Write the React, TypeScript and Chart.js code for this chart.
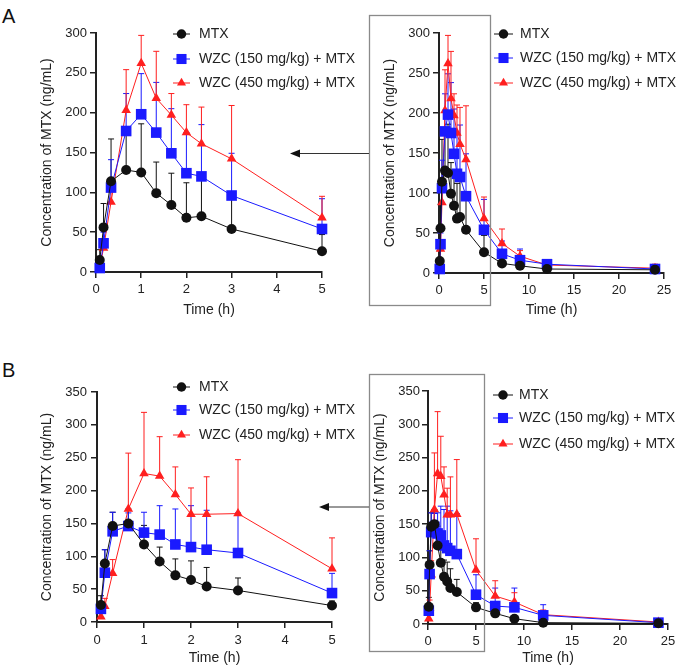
import React, { useEffect, useRef } from 'react';
import { Chart, registerables } from 'chart.js';

Chart.register(...registerables);

const FONT = '"Liberation Sans", Arial, Helvetica, sans-serif';
Chart.defaults.font.family = FONT;

// ---- data ----
const times = [0.083, 0.167, 0.333, 0.667, 1, 1.333, 1.667, 2, 2.333, 3, 5, 7, 9, 12, 24];
const seriesNames = ['MTX', 'WZC (150 mg/kg) + MTX', 'WZC (450 mg/kg) + MTX'];

const xTicksEarly = [0, 1, 2, 3, 4, 5];
const xTicksFull = [0, 5, 10, 15, 20, 25];
const yTicksA = [0, 50, 100, 150, 200, 250, 300];
const yTicksB = [0, 50, 100, 150, 200, 250, 300, 350];

// Panel A (mean and SD, ng/mL)
const mtxA = [15, 56, 114, 128, 125, 99, 84, 68, 70, 54, 26, 12, 9, 5, 4];
const mtxASd = [13, 30, 53, 44, 61, 39, 40, 44, 48, 38, 21, 4, 3, 1, 1];
const wzc150A = [5, 36, 106, 177, 198, 175, 149, 124, 120, 96, 54, 24, 16, 11, 5];
const wzc150ASd = [3, 14, 35, 47, 51, 63, 56, 51, 65, 53, 38, 16, 14, 3, 2];
const wzc450A = [6, 30, 88, 203, 262, 218, 197, 175, 161, 142, 68, 37, 21, 10, 6];
const wzc450ASd = [4, 10, 27, 51, 35, 59, 27, 35, 46, 67, 27, 18, 7, 2, 5];

// Panel B
const mtxB = [26, 89, 146, 150, 118, 92, 71, 64, 54, 48, 25, 16, 8, 2, 1];
const mtxBSd = [14, 21, 21, 22, 29, 22, 25, 29, 29, 19, 7, 4, 2, 1, 1];
const wzc150B = [20, 75, 138, 146, 136, 133, 118, 114, 110, 105, 44, 27, 25, 13, 2];
const wzc150BSd = [8, 35, 29, 20, 31, 44, 54, 63, 60, 61, 30, 27, 29, 16, 3];
const wzc450B = [8, 24, 74, 172, 226, 222, 194, 164, 164, 165, 81, 42, 33, 14, 3];
const wzc450BSd = [7, 12, 21, 85, 93, 60, 42, 40, 57, 82, 47, 23, 14, 7, 2];

// ---- styles ----
const colors = ['#111111', '#1a1aff', '#ff1f1f'];
const markers = ['circle', 'rect', 'triangle'];
const radii = [5, 7.5, 5.5];
const TEXT = '#222222';

const errorBarPlugin = {
  id: 'errorBars',
  beforeDatasetsDraw(chart: any) {
    const ctx = chart.ctx;
    const ys = chart.scales.y;
    chart.data.datasets.forEach((ds: any, i: number) => {
      const meta = chart.getDatasetMeta(i);
      ctx.save();
      ctx.strokeStyle = ds.borderColor;
      ctx.lineWidth = 1;
      meta.data.forEach((pt: any, j: number) => {
        const top = ys.getPixelForValue(ds.data[j].y + ds.sd[j]);
        ctx.beginPath();
        ctx.moveTo(pt.x, pt.y);
        ctx.lineTo(pt.x, top);
        ctx.moveTo(pt.x - 3, top);
        ctx.lineTo(pt.x + 3, top);
        ctx.stroke();
      });
      ctx.restore();
    });
  },
};

function drawMarker(ctx: any, style: string, x: number, y: number, r: number) {
  ctx.beginPath();
  if (style === 'circle') {
    ctx.arc(x, y, r, 0, Math.PI * 2);
  } else if (style === 'rect') {
    const s = Math.SQRT1_2 * r;
    ctx.rect(x - s, y - s, 2 * s, 2 * s);
  } else {
    const h = r * 1.5;
    const w = r * Math.sqrt(3) / 2;
    ctx.moveTo(x, y - r);
    ctx.lineTo(x + w, y - r + h);
    ctx.lineTo(x - w, y - r + h);
    ctx.closePath();
  }
  ctx.fill();
}

const legendPlugin = {
  id: 'pkLegend',
  afterDraw(chart: any, _args: any, opts: any) {
    if (!opts || !opts.ys) return;
    const ctx = chart.ctx;
    ctx.save();
    chart.data.datasets.forEach((ds: any, i: number) => {
      const y = opts.ys[i];
      ctx.strokeStyle = ds.borderColor;
      ctx.fillStyle = ds.borderColor;
      ctx.lineWidth = 1;
      ctx.beginPath();
      ctx.moveTo(opts.lineX, y);
      ctx.lineTo(opts.lineX + opts.lineLen, y);
      ctx.stroke();
      drawMarker(ctx, markers[i], opts.lineX + opts.lineLen / 2, y, radii[i] * 0.95);
      ctx.fillStyle = TEXT;
      ctx.font = `14px ${FONT}`;
      ctx.textBaseline = 'middle';
      ctx.textAlign = 'left';
      ctx.fillText(ds.label, opts.textX, y + 0.5);
    });
    ctx.restore();
  },
};

function buildConfig(spec: any) {
  const n = spec.count;
  const datasets = spec.series.map((s: any, i: number) => ({
    label: seriesNames[i],
    data: times.slice(0, n).map((t, j) => ({ x: t, y: s.mean[j] })),
    sd: s.sd.slice(0, n),
    borderColor: colors[i],
    backgroundColor: colors[i],
    borderWidth: 1,
    pointStyle: markers[i],
    pointRadius: radii[i],
    pointBorderWidth: 0,
    pointBackgroundColor: colors[i],
    clip: false,
    tension: 0,
    fill: false,
  }));
  const grid = {
    display: true,
    drawOnChartArea: false,
    drawTicks: true,
    tickLength: 6,
    color: TEXT,
    lineWidth: 1.5,
  };
  const border = { display: true, color: TEXT, width: 2 };
  return {
    type: 'line',
    data: { datasets },
    plugins: [errorBarPlugin, legendPlugin],
    options: {
      animation: false,
      responsive: false,
      devicePixelRatio: 1,
      events: [],
      layout: { padding: spec.padding },
      plugins: {
        legend: { display: false },
        tooltip: { enabled: false },
        pkLegend: spec.legend,
      },
      scales: {
        x: {
          type: 'linear',
          min: 0,
          max: spec.xMax,
          afterBuildTicks: (s: any) => {
            s.ticks = spec.xTicks.map((v: number) => ({ value: v }));
          },
          afterFit: (s: any) => {
            s.height = spec.xAxisHeight;
          },
          grid,
          border,
          ticks: {
            font: { size: 13 },
            color: TEXT,
            padding: spec.xTickPad,
            maxRotation: 0,
            autoSkip: false,
          },
          title: {
            display: true,
            text: 'Time (h)',
            font: { size: 14 },
            color: TEXT,
            padding: { top: 0, bottom: spec.xTitlePad },
          },
        },
        y: {
          type: 'linear',
          min: 0,
          max: spec.yMax,
          afterBuildTicks: (s: any) => {
            s.ticks = spec.yTicks.map((v: number) => ({ value: v }));
          },
          afterFit: (s: any) => {
            s.width = spec.yAxisWidth;
          },
          grid,
          border,
          ticks: {
            font: { size: 13 },
            color: TEXT,
            padding: spec.yTickPad,
            autoSkip: false,
          },
          title: {
            display: true,
            text: 'Concentration of MTX (ng/mL)',
            font: { size: 14 },
            color: TEXT,
            padding: { top: spec.yTitlePad, bottom: 0 },
          },
        },
      },
    },
  };
}

function PKChart({ spec }: { spec: any }) {
  const ref = useRef<HTMLCanvasElement | null>(null);
  useEffect(() => {
    if (!ref.current) return;
    const chart = new Chart(ref.current, buildConfig(spec) as any);
    return () => chart.destroy();
  }, [spec]);
  const c = spec.canvas;
  return (
    <canvas
      ref={ref}
      width={c.width}
      height={c.height}
      style={{ position: 'absolute', left: c.left, top: c.top, width: c.width, height: c.height, display: 'block' }}
    />
  );
}

const seriesA = [
  { mean: mtxA, sd: mtxASd },
  { mean: wzc150A, sd: wzc150ASd },
  { mean: wzc450A, sd: wzc450ASd },
];
const seriesB = [
  { mean: mtxB, sd: mtxBSd },
  { mean: wzc150B, sd: wzc150BSd },
  { mean: wzc450B, sd: wzc450BSd },
];

const specTL = {
  canvas: { left: 0, top: 0, width: 370, height: 325 },
  padding: { top: 33, right: 48, bottom: 0, left: 0 },
  yAxisWidth: 96, xAxisHeight: 53,
  xTicks: xTicksEarly, yTicks: yTicksA, xMax: 5, yMax: 300, count: 11,
  series: seriesA,
  xTickPad: 4, xTitlePad: 6.6, yTickPad: 3, yTitlePad: 38.6,
  legend: { lineX: 173, lineLen: 17, textX: 199, ys: [34, 59, 83] },
};
const specTR = {
  canvas: { left: 340, top: 0, width: 340, height: 325 },
  padding: { top: 33, right: 16, bottom: 0, left: 0 },
  yAxisWidth: 99, xAxisHeight: 52,
  xTicks: xTicksFull, yTicks: yTicksA, xMax: 25, yMax: 300, count: 15,
  series: seriesA,
  xTickPad: 4, xTitlePad: 6.6, yTickPad: 3, yTitlePad: 41.6,
  legend: { lineX: 154, lineLen: 19, textX: 180, ys: [34, 58, 83] },
};
const specBL = {
  canvas: { left: 0, top: 330, width: 370, height: 338 },
  padding: { top: 62, right: 38, bottom: 0, left: 0 },
  yAxisWidth: 97, xAxisHeight: 46,
  xTicks: xTicksEarly, yTicks: yTicksB, xMax: 5, yMax: 350, count: 11,
  series: seriesB,
  xTickPad: 5, xTitlePad: 1.6, yTickPad: 4, yTitlePad: 38.6,
  legend: { lineX: 173, lineLen: 17, textX: 199, ys: [57, 80, 105] },
};
const specBR = {
  canvas: { left: 340, top: 330, width: 340, height: 338 },
  padding: { top: 61, right: 12, bottom: 0, left: 0 },
  yAxisWidth: 88, xAxisHeight: 44,
  xTicks: xTicksFull, yTicks: yTicksB, xMax: 25, yMax: 350, count: 15,
  series: seriesB,
  xTickPad: 4, xTitlePad: 1.6, yTickPad: 2, yTitlePad: 31.6,
  legend: { lineX: 153, lineLen: 20, textX: 179, ys: [65, 88, 114] },
};

export default function App() {
  const label = { position: 'absolute' as const, left: 2, fontSize: 20, lineHeight: '20px', color: '#111', fontFamily: FONT };
  return (
    <div style={{ position: 'absolute', left: 0, top: 0, width: 680, height: 668, background: '#fff', overflow: 'hidden' }}>
      <div style={{ ...label, top: 6 }}>A</div>
      <div style={{ ...label, top: 360 }}>B</div>
      <PKChart spec={specTL} />
      <PKChart spec={specBL} />
      <PKChart spec={specTR} />
      <PKChart spec={specBR} />
      <svg width={680} height={668} style={{ position: 'absolute', left: 0, top: 0, pointerEvents: 'none' }}>
        <rect x={369.5} y={15.5} width={121} height={290} fill="none" stroke="#8a8a8a" strokeWidth={1.3} />
        <rect x={369.5} y={374.5} width={115} height={277} fill="none" stroke="#8a8a8a" strokeWidth={1.3} />
        <line x1={298} y1={153.5} x2={369} y2={153.5} stroke="#333" strokeWidth={1} />
        <polygon points="290,153.5 300,149.5 300,157.5" fill="#111" />
        <line x1={327} y1={507} x2={369} y2={507} stroke="#333" strokeWidth={1} />
        <polygon points="319,507 329,503 329,511" fill="#111" />
      </svg>
    </div>
  );
}
